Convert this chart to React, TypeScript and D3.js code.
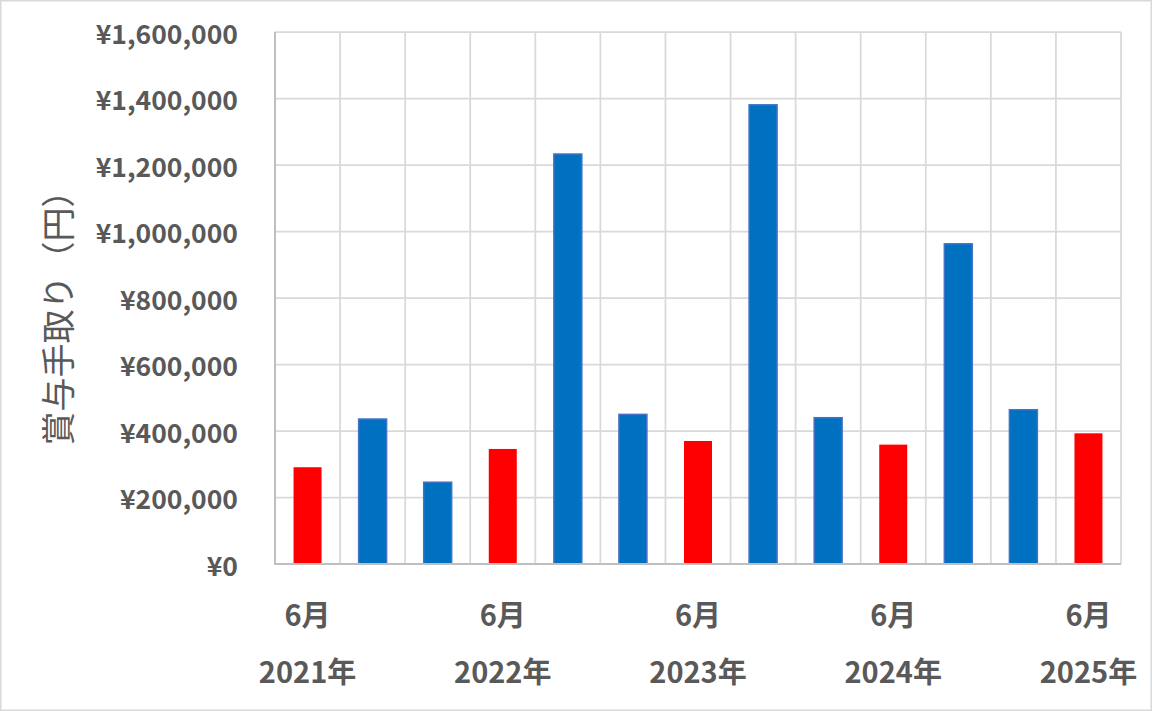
import React from "react";
import * as d3 from "d3";

// Bonus take-home (賞与手取り) per payment, in yen
const categories = [
  "2021-06", "2021-12", "2022-03", "2022-06", "2022-12", "2023-03", "2023-06",
  "2023-12", "2024-03", "2024-06", "2024-12", "2025-03", "2025-06",
];
const values = [
  291000, 436000, 246000, 346000, 1233000, 450000, 370000,
  1381000, 440000, 359000, 963000, 464000, 393000,
];
// "summer" bonuses (June) are red, the others blue
const kinds = ["s", "o", "o", "s", "o", "o", "s", "o", "o", "s", "o", "o", "s"];
const monthLabels = ["6月", "", "", "6月", "", "", "6月", "", "", "6月", "", "", "6月"];
const yearLabels = ["2021年", "", "", "2022年", "", "", "2023年", "", "", "2024年", "", "", "2025年"];
const yTicks = [0, 200000, 400000, 600000, 800000, 1000000, 1200000, 1400000, 1600000];
const yTitle = "賞与手取り（円）";

const W = 1152;
const H = 711;
const margin = { left: 275, right: 31, top: 32, bottom: 147 };

export default function App() {
  const x = d3
    .scaleBand<string>()
    .domain(categories)
    .range([margin.left, W - margin.right])
    .paddingInner(0.57)
    .paddingOuter(0.285);
  const step = (W - margin.right - margin.left) / categories.length;
  const y = d3.scaleLinear().domain([0, 1600000]).range([H - margin.bottom, margin.top]);
  const fmt = (v: number) => "¥" + d3.format(",")(v);
  const font = "'Noto Sans CJK JP', 'Noto Sans', sans-serif";
  const gray = "#595959";

  return (
    <svg
      width={W}
      height={H}
      style={{ position: "absolute", left: 0, top: 0, background: "#fff" }}
      fontFamily={font}
    >
      <rect x={0.75} y={0.75} width={W - 1.5} height={H - 1.5} fill="#fff" stroke="#d9d9d9" strokeWidth={1.5} />
      {/* horizontal gridlines */}
      {yTicks.map((t) => (
        <line key={"h" + t} x1={margin.left} x2={W - margin.right} y1={y(t)} y2={y(t)} stroke="#d9d9d9" strokeWidth={1.75} />
      ))}
      {/* vertical gridlines at category boundaries */}
      {d3.range(categories.length + 1).map((i) => (
        <line
          key={"v" + i}
          x1={margin.left + i * step}
          x2={margin.left + i * step}
          y1={y(1600000)}
          y2={y(0)}
          stroke="#d9d9d9"
          strokeWidth={1.75}
        />
      ))}
      {/* bars */}
      {categories.map((c, i) => (
        <rect
          key={c}
          x={x(c)}
          y={y(values[i])}
          width={x.bandwidth()}
          height={y(0) - y(values[i])}
          fill={kinds[i] === "s" ? "#ff0000" : "#0070c0"}
          stroke={kinds[i] === "s" ? "none" : "#4472c4"}
          strokeWidth={1.5}
        />
      ))}
      {/* axes lines */}
      <line x1={margin.left} x2={margin.left} y1={y(1600000)} y2={y(0) + 1} stroke="#bfbfbf" strokeWidth={2} />
      <line x1={margin.left - 1} x2={W - margin.right} y1={y(0)} y2={y(0)} stroke="#bfbfbf" strokeWidth={2} />
      {/* y tick labels */}
      {yTicks.map((t) => (
        <text
          key={"t" + t}
          x={238}
          y={y(t)}
          textAnchor="end"
          dominantBaseline="central"
          fontSize={26.5}
          fontWeight="bold"
          fill={gray}
        >
          {fmt(t)}
        </text>
      ))}
      {/* x labels */}
      {categories.map((c, i) => {
        const cx = (x(c) as number) + x.bandwidth() / 2;
        return (
          <g key={"l" + c}>
            {monthLabels[i] && (
              <text x={cx} y={613} textAnchor="middle" dominantBaseline="central" fontSize={29} fontWeight="bold" fill={gray}>
                {monthLabels[i]}
              </text>
            )}
            {yearLabels[i] && (
              <text x={cx} y={670} textAnchor="middle" dominantBaseline="central" fontSize={29} fontWeight="bold" fill={gray}>
                {yearLabels[i]}
              </text>
            )}
          </g>
        );
      })}
      {/* y axis title */}
      <text
        transform={`translate(56, ${(172 + 447) / 2}) rotate(-90)`}
        textAnchor="middle"
        dominantBaseline="central"
        fontSize={34}
        fill={gray}
      >
        {yTitle}
      </text>
    </svg>
  );
}
